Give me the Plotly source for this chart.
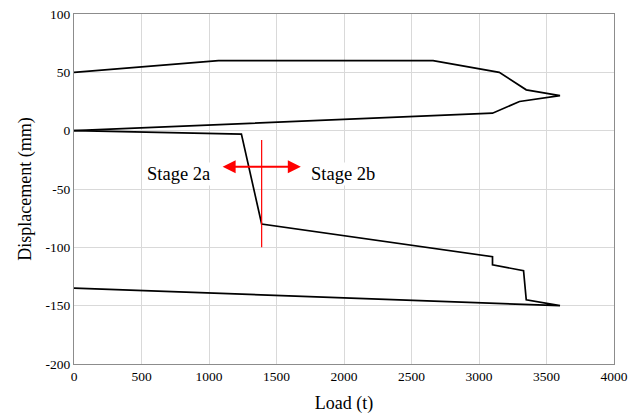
import plotly.graph_objects as go

# Data
top_load = [0, 1070, 2660, 3150, 3350, 3600, 3300, 3100, 0]
top_disp = [50, 60, 60, 50, 35, 30, 25, 15, 0]

low_load = [0, 1240, 1390, 3100, 3100, 3330, 3350, 3600, 0]
low_disp = [0, -3, -80, -108, -115, -120, -145, -150, -135]

divider_load = [1390, 1390]
divider_disp = [-8, -100]

arrow_load = [1090, 1680]
arrow_disp = -31

labels = ["Stage 2a", "Stage 2b"]
label_load = [775, 1995]
label_disp = [-37, -37]

x_ticks = list(range(0, 4001, 500))
y_ticks = list(range(-200, 101, 50))

FONT = "Liberation Serif"

fig = go.Figure()
fig.add_trace(go.Scatter(x=top_load, y=top_disp, mode="lines",
                         line=dict(color="black", width=1.7), showlegend=False))
fig.add_trace(go.Scatter(x=low_load, y=low_disp, mode="lines",
                         line=dict(color="black", width=1.7), showlegend=False))
fig.add_trace(go.Scatter(x=divider_load, y=divider_disp, mode="lines",
                         line=dict(color="red", width=1.2), showlegend=False))

fig.add_annotation(x=arrow_load[1], y=arrow_disp, ax=arrow_load[0], ay=arrow_disp,
                   axref="x", ayref="y", xref="x", yref="y", text="",
                   showarrow=True, arrowside="end+start", arrowhead=2,
                   arrowsize=1.3, arrowwidth=2, arrowcolor="red")

for t, xl, yl in zip(labels, label_load, label_disp):
    fig.add_annotation(x=xl, y=yl, text=t, showarrow=False, xref="x", yref="y",
                       bgcolor="white", font=dict(family=FONT, size=18.5, color="black"))

axis_common = dict(showline=True, linecolor="#8c8c8c", linewidth=1, mirror=True,
                   showgrid=True, gridcolor="#d9d9d9", gridwidth=1, zeroline=False,
                   ticks="", automargin=False, ticklabeloverflow="allow",
                   tickfont=dict(family=FONT, size=13.5, color="black"))

fig.update_xaxes(range=[0, 4000], tickvals=x_ticks, ticktext=[str(v) for v in x_ticks],
                 title=dict(text="Load (t)", font=dict(family=FONT, size=18, color="black"),
                            standoff=13),
                 **axis_common)
fig.update_yaxes(range=[-200, 100], tickvals=y_ticks, ticktext=[str(v) for v in y_ticks],
                 title=dict(text="Displacement (mm)", font=dict(family=FONT, size=18, color="black"),
                            standoff=9),
                 **axis_common)

# page body has an 8px default margin, so the figure is 8px smaller on each axis
fig.update_layout(width=636, height=408, margin=dict(l=66, r=30, t=6, b=52),
                  plot_bgcolor="white", paper_bgcolor="white",
                  font=dict(family=FONT, color="black"))

fig.write_html("out.html")
